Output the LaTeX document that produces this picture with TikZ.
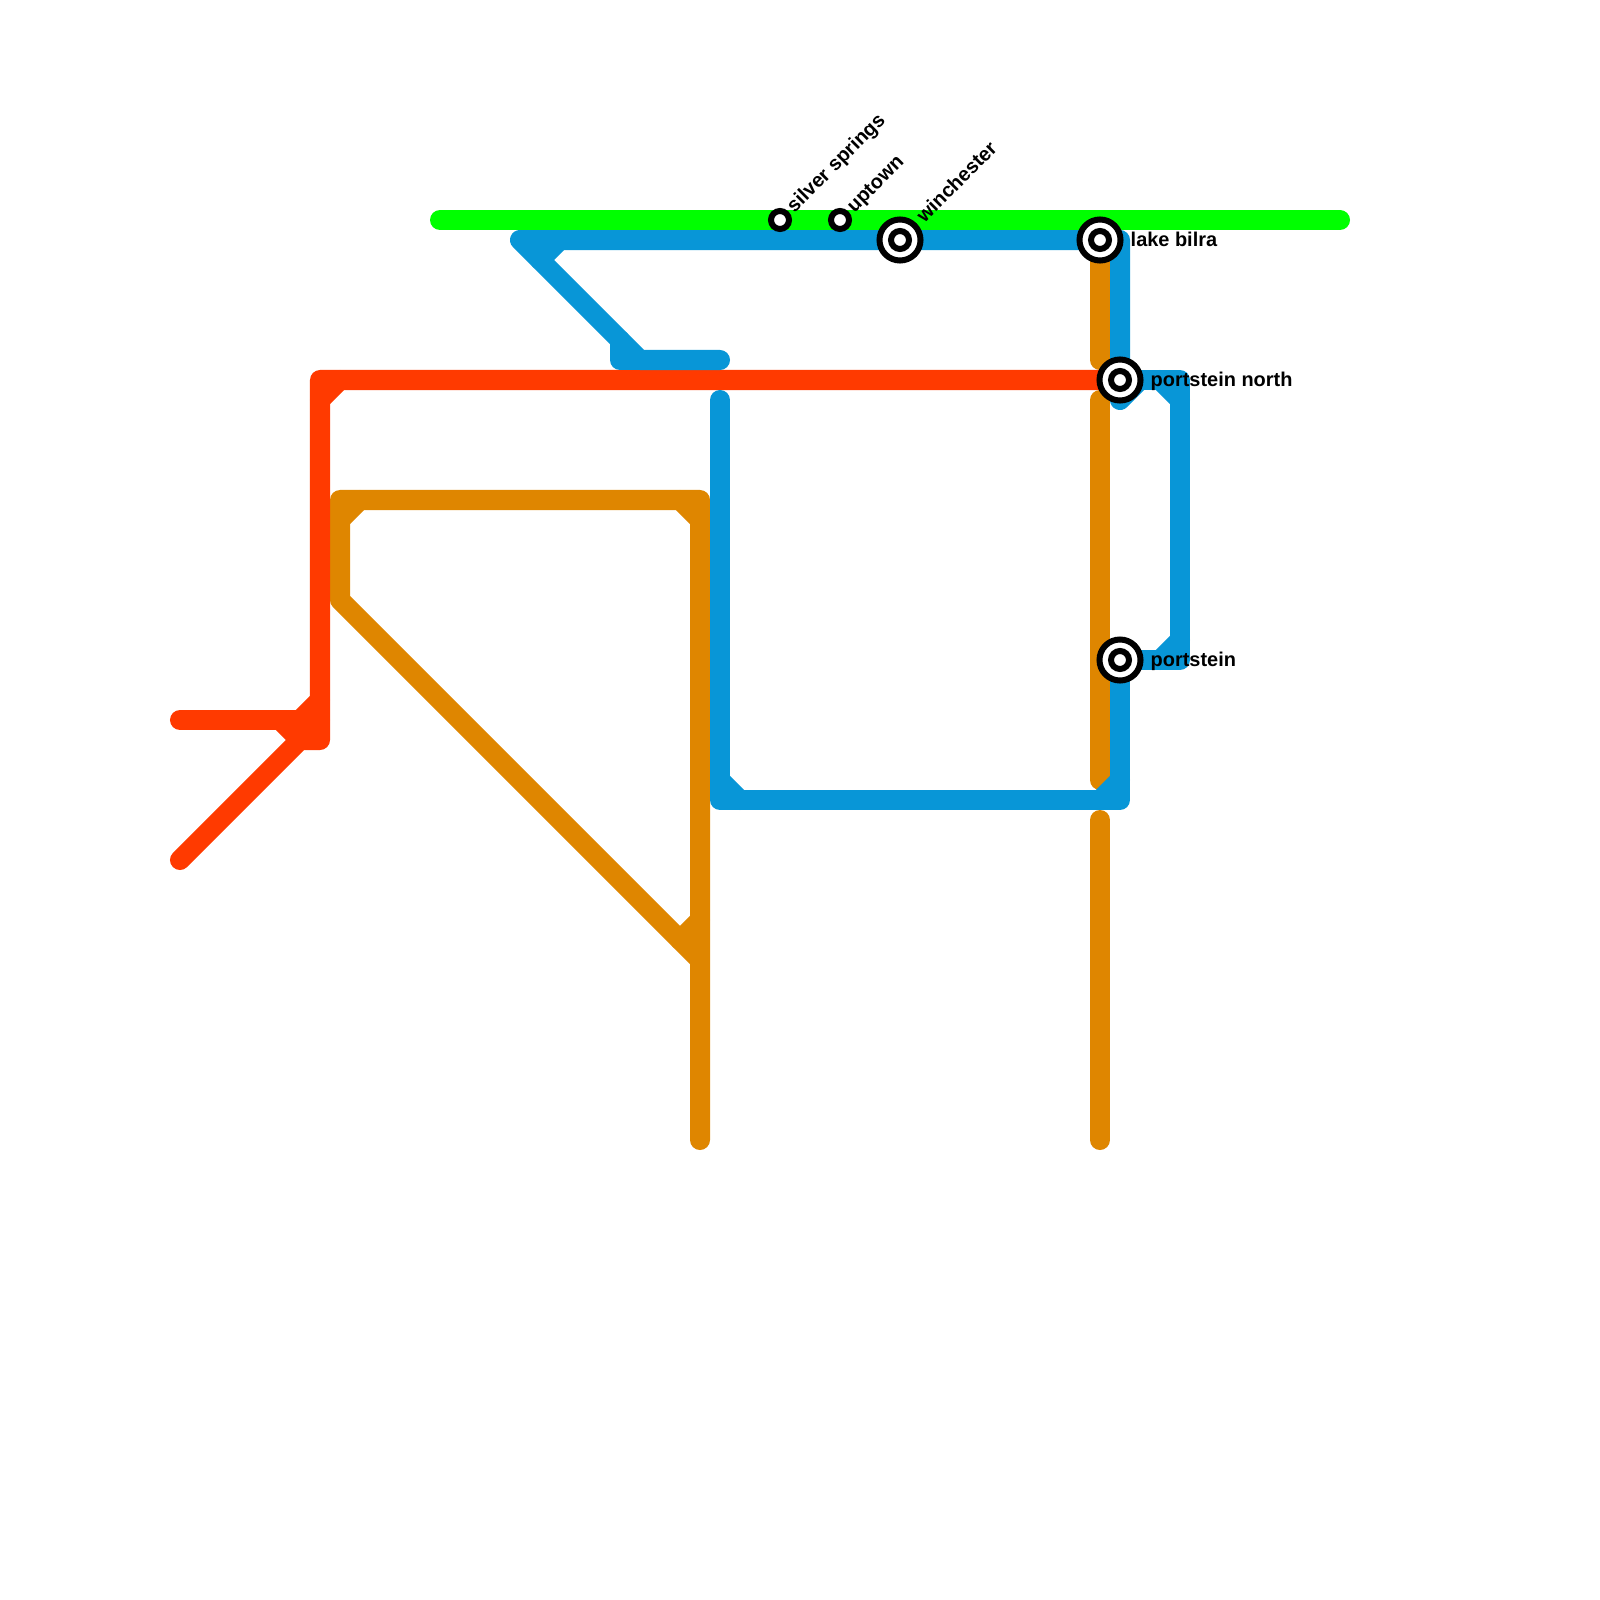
\documentclass[tikz,border=0pt]{standalone}
\usepackage{fontspec}
\setmainfont{Liberation Sans}
\usepackage{tikz}
\definecolor{metrogreen}{HTML}{00FF00}
\definecolor{metroblue}{HTML}{0896D7}
\definecolor{metroorange}{HTML}{DF8600}
\definecolor{metrored}{HTML}{FF3A00}
\tikzset{
  metroline/.style={line width=0.2cm,line cap=round,line join=round},
  greenline/.style={metroline,draw=metrogreen},
  blueline/.style={metroline,draw=metroblue},
  orangeline/.style={metroline,draw=metroorange},
  redline/.style={metroline,draw=metrored},
  stationbig/.style={circle,draw=black,fill=white,line width=0.06cm,minimum size=0.41cm,inner sep=0pt,outer sep=0pt},
  stationcore/.style={circle,draw=black,fill=white,line width=0.06cm,minimum size=0.18cm,inner sep=0pt,outer sep=0pt},
  stationlabel/.style={anchor=base west,inner sep=0pt,font=\fontsize{5.67pt}{7pt}\selectfont\bfseries},
}

\begin{document}
\begin{tikzpicture}[x=0.01cm,y=-0.01cm]
            \useasboundingbox (0,0) rectangle (1600,1600);
            \coordinate (silverpt) at (780,220);
            \coordinate (uptownpt) at (840,220);
            \coordinate (winchesterpt) at (900,240);
            \coordinate (lakebilrapt) at (1100,240);
            \coordinate (northpt) at (1120,380);
            \coordinate (portsteinpt) at (1120,660);
            % orange
            \draw[orangeline] (700,1140) -- (700,500) -- (340,500) -- (340,600) -- (700,960);
            \draw[orangeline] (340,520) -- (360,500);
            \draw[orangeline] (680,500) -- (700,520);
            \draw[orangeline] (680,940) -- (700,920);
            \draw[orangeline] (lakebilrapt) -- (1100,360);
            \draw[orangeline] (1100,400) -- (1100,780);
            \draw[orangeline] (1100,820) -- (1100,1140);
            % red
            \draw[redline] (northpt) -- (320,380) -- (320,740) -- (300,740) -- (180,860);
            \draw[redline] (180,720) -- (320,720);
            \draw[redline] (340,380) -- (320,400);
            \draw[redline] (300,720) -- (320,700);
            \draw[redline] (280,720) -- (300,740);
            % blue
            \draw[blueline] (lakebilrapt) -- (520,240) -- (640,360) -- (720,360);
            \draw[blueline] (620,340) -- (620,360) -- (640,360);
            \draw[blueline] (540,260) -- (560,240);
            \draw[blueline] (720,400) -- (720,800) -- (1120,800) -- (portsteinpt);
            \draw[blueline] (720,780) -- (740,800);
            \draw[blueline] (1100,800) -- (1120,780);
            \draw[blueline] (lakebilrapt) -- (1120,240) -- (1120,400) -- (1140,380);
            \draw[blueline] (northpt) -- (1180,380) -- (1180,660) -- (portsteinpt);
            \draw[blueline] (1160,380) -- (1180,400);
            \draw[blueline] (1160,660) -- (1180,640);
            % green
            \draw[greenline] (440,220) -- (1340,220);
            % stations
            \node[stationcore] (silversprings) at (silverpt) {};
            \node[stationcore] (uptown) at (uptownpt) {};
            \node[stationbig] (winchester) at (winchesterpt) {};
            \node[stationcore] (winchestercore) at (winchesterpt) {};
            \node[stationbig] (lakebilra) at (lakebilrapt) {};
            \node[stationcore] (lakebilracore) at (lakebilrapt) {};
            \node[stationbig] (portsteinnorth) at (northpt) {};
            \node[stationcore] (portsteinnorthcore) at (northpt) {};
            \node[stationbig] (portstein) at (portsteinpt) {};
            \node[stationcore] (portsteincore) at (portsteinpt) {};
            % labels
            \node[stationlabel,rotate=45] (silverlabel) at (794,214) {silver springs};
            \node[stationlabel,rotate=45] (uptownlabel) at (854,214) {uptown};
            \node[stationlabel,rotate=45] (winchesterlabel) at (924,224) {winchester};
            \node[stationlabel] (lakebilralabel) at (1130,246) {lake bilra};
            \node[stationlabel] (northlabel) at (1150,386) {portstein north};
            \node[stationlabel] (portsteinlabel) at (1150,666) {portstein};
        \end{tikzpicture}
\end{document}
